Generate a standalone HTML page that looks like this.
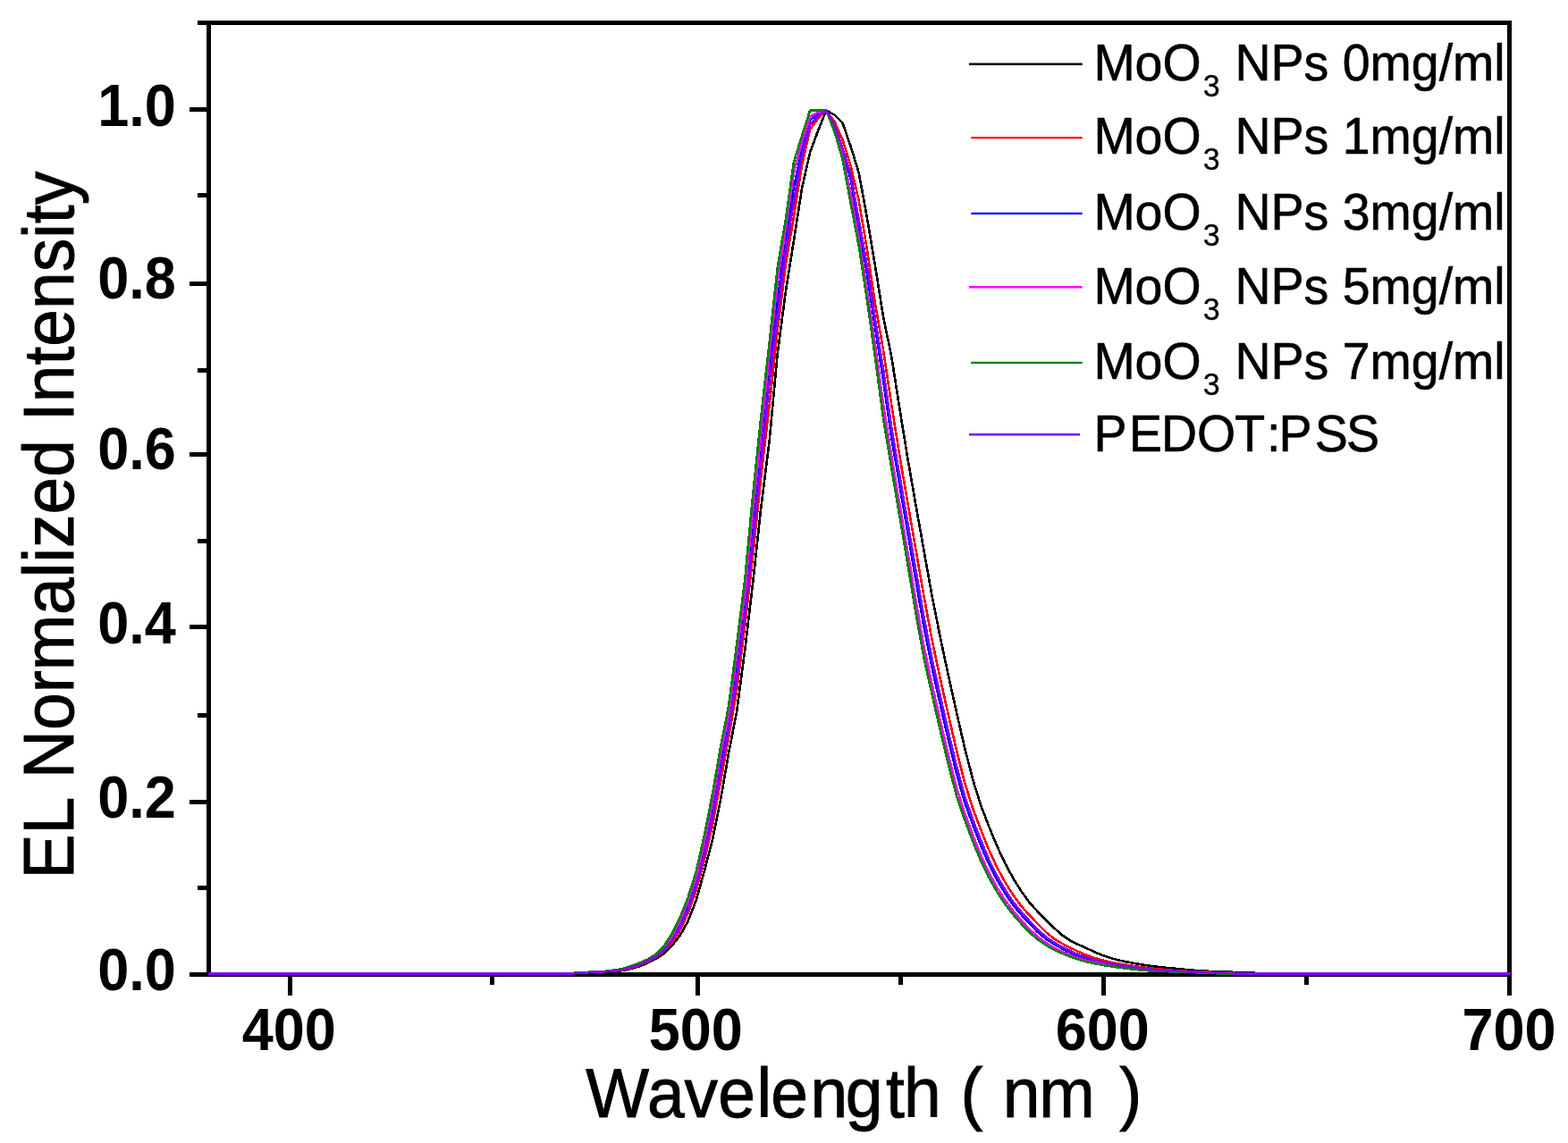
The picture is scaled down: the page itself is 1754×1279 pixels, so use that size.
<!DOCTYPE html>
<html lang="en">
<head>
<meta charset="utf-8">
<title>EL Normalized Intensity vs Wavelength</title>
<style>
html,body{margin:0;padding:0;background:#fff;}
body{width:1754px;height:1279px;overflow:hidden;}
svg{display:block;}
text{font-family:"Liberation Sans",sans-serif;fill:#000;}
.tick{font-weight:bold;font-size:63px;}
.title{font-size:75px;stroke:#000;stroke-width:0.9px;}
.leg{font-size:55.5px;stroke:#000;stroke-width:0.6px;}
.sub{font-size:34px;stroke-width:0.3px;}
.curve{fill:none;stroke-width:2.6;stroke-linejoin:round;stroke-linecap:butt;}
</style>
</head>
<body>
<svg width="1754" height="1279" viewBox="0 0 1754 1279">
<rect x="0" y="0" width="1754" height="1279" fill="#ffffff"/>

<g stroke="#000" stroke-width="5" fill="none" shape-rendering="crispEdges">
<line x1="221.4" y1="25.5" x2="1691.1" y2="25.5"/>
<line x1="211.5" y1="1090.2" x2="1691.1" y2="1090.2"/>
<line x1="233.3" y1="23.0" x2="233.3" y2="1092.7"/>
<line x1="1688.6" y1="23.0" x2="1688.6" y2="1113.5"/>
<line x1="211.5" y1="122.4" x2="233.3" y2="122.4"/>
<line x1="221.4" y1="218.9" x2="233.3" y2="218.9"/>
<line x1="211.5" y1="317.4" x2="233.3" y2="317.4"/>
<line x1="221.4" y1="414.5" x2="233.3" y2="414.5"/>
<line x1="211.5" y1="508.4" x2="233.3" y2="508.4"/>
<line x1="221.4" y1="605.3" x2="233.3" y2="605.3"/>
<line x1="211.5" y1="701.5" x2="233.3" y2="701.5"/>
<line x1="221.4" y1="800.0" x2="233.3" y2="800.0"/>
<line x1="211.5" y1="897.1" x2="233.3" y2="897.1"/>
<line x1="221.4" y1="993.5" x2="233.3" y2="993.5"/>
<line x1="324.0" y1="1090.2" x2="324.0" y2="1113.5"/>
<line x1="550.8" y1="1090.2" x2="550.8" y2="1101.8"/>
<line x1="780.5" y1="1090.2" x2="780.5" y2="1113.5"/>
<line x1="1007.5" y1="1090.2" x2="1007.5" y2="1101.8"/>
<line x1="1234.6" y1="1090.2" x2="1234.6" y2="1113.5"/>
<line x1="1461.6" y1="1090.2" x2="1461.6" y2="1101.8"/>
</g>
<g class="curve" shape-rendering="crispEdges">
<polyline stroke="#000000" points="233.2,1089.2 241.9,1089.2 251.0,1089.2 260.1,1089.2 269.2,1089.2 278.3,1089.2 287.4,1089.2 296.5,1089.2 305.6,1089.2 314.7,1089.2 323.8,1089.2 332.9,1089.2 342.0,1089.2 351.1,1089.2 360.2,1089.2 369.3,1089.2 378.4,1089.2 387.5,1089.2 396.6,1089.2 405.7,1089.2 414.8,1089.2 423.9,1089.2 433.0,1089.2 442.1,1089.2 451.2,1089.2 460.3,1089.2 469.4,1089.2 478.5,1089.2 487.6,1089.2 496.7,1089.2 505.8,1089.2 514.9,1089.2 524.0,1089.2 533.1,1089.2 542.2,1089.2 551.3,1089.2 560.4,1089.2 569.5,1089.2 578.6,1089.2 587.7,1089.2 596.8,1089.2 605.8,1089.2 614.9,1089.2 624.0,1089.2 633.1,1089.2 642.2,1089.2 651.3,1088.8 660.4,1088.3 669.5,1087.8 678.6,1087.4 687.7,1086.9 696.8,1086.0 705.9,1084.1 715.0,1081.4 724.1,1077.7 733.2,1073.2 742.3,1067.1 751.4,1058.5 760.5,1047.1 769.6,1030.8 778.7,1007.3 787.8,975.1 796.9,939.9 806.0,895.2 815.1,842.8 824.2,795.7 833.3,727.2 842.4,650.3 851.5,566.2 860.6,494.0 869.7,396.2 878.8,326.8 887.9,269.8 897.0,211.1 906.1,170.5 915.2,146.0 924.3,123.7 933.4,128.5 942.5,137.5 951.6,163.7 960.7,193.4 969.8,243.2 978.9,296.8 988.0,354.4 997.1,398.1 1006.2,456.3 1015.3,512.6 1024.4,564.8 1033.5,616.1 1042.6,667.2 1051.7,712.8 1060.8,755.6 1069.9,796.6 1079.0,836.3 1088.1,871.9 1097.2,901.1 1106.3,925.0 1115.4,947.0 1124.5,966.5 1133.6,983.2 1142.7,997.7 1151.8,1010.2 1160.9,1020.2 1170.0,1029.2 1179.1,1038.4 1188.2,1046.5 1197.3,1052.5 1206.4,1057.0 1215.5,1061.1 1224.6,1065.3 1233.7,1069.2 1242.8,1072.2 1251.8,1074.5 1260.9,1076.5 1270.0,1078.1 1279.1,1079.7 1288.2,1081.0 1297.3,1082.1 1306.4,1083.0 1315.5,1083.9 1324.6,1084.8 1333.7,1085.6 1342.8,1086.4 1351.9,1086.8 1361.0,1087.1 1370.1,1087.5 1379.2,1087.8 1388.3,1088.2 1397.4,1088.5 1406.5,1088.9 1415.6,1089.2 1424.7,1089.2 1433.8,1089.2 1442.9,1089.2 1452.0,1089.2 1461.1,1089.2 1470.2,1089.2 1479.3,1089.2 1488.4,1089.2 1497.5,1089.2 1506.6,1089.2 1515.7,1089.2 1524.8,1089.2 1533.9,1089.2 1543.0,1089.2 1552.1,1089.2 1561.2,1089.2 1570.3,1089.2 1579.4,1089.2 1588.5,1089.2 1597.6,1089.2 1606.7,1089.2 1615.8,1089.2 1624.9,1089.2 1634.0,1089.2 1643.1,1089.2 1652.2,1089.2 1661.3,1089.2 1670.4,1089.2 1679.5,1089.2 1688.6,1089.2 1688.4,1089.2"/>
<polyline stroke="#ff0000" points="233.2,1089.2 241.9,1089.2 251.0,1089.2 260.1,1089.2 269.2,1089.2 278.3,1089.2 287.4,1089.2 296.5,1089.2 305.6,1089.2 314.7,1089.2 323.8,1089.2 332.9,1089.2 342.0,1089.2 351.1,1089.2 360.2,1089.2 369.3,1089.2 378.4,1089.2 387.5,1089.2 396.6,1089.2 405.7,1089.2 414.8,1089.2 423.9,1089.2 433.0,1089.2 442.1,1089.2 451.2,1089.2 460.3,1089.2 469.4,1089.2 478.5,1089.2 487.6,1089.2 496.7,1089.2 505.8,1089.2 514.9,1089.2 524.0,1089.2 533.1,1089.2 542.2,1089.2 551.3,1089.2 560.4,1089.2 569.5,1089.2 578.6,1089.2 587.7,1089.2 596.8,1089.2 605.8,1089.2 614.9,1089.2 624.0,1089.2 633.1,1089.2 642.2,1089.2 651.3,1088.6 660.4,1088.1 669.5,1087.6 678.6,1087.1 687.7,1086.6 696.8,1085.2 705.9,1083.1 715.0,1080.1 724.1,1076.3 733.2,1071.6 742.3,1064.8 751.4,1054.9 760.5,1041.2 769.6,1022.2 778.7,996.3 787.8,963.1 796.9,923.6 806.0,874.6 815.1,824.7 824.2,772.0 833.3,699.8 842.4,619.7 851.5,531.4 860.6,453.7 869.7,370.6 878.8,296.3 887.9,242.6 897.0,184.9 906.1,144.7 915.2,132.7 924.3,123.7 933.4,135.9 942.5,156.4 951.6,185.4 960.7,224.7 969.8,278.8 978.9,339.2 988.0,391.2 997.1,452.1 1006.2,509.4 1015.3,562.4 1024.4,614.9 1033.5,667.3 1042.6,716.3 1051.7,759.2 1060.8,799.8 1069.9,839.1 1079.0,875.1 1088.1,904.4 1097.2,928.4 1106.3,951.0 1115.4,970.7 1124.5,987.4 1133.6,1001.9 1142.7,1014.3 1151.8,1024.4 1160.9,1033.9 1170.0,1043.0 1179.1,1050.4 1188.2,1055.9 1197.3,1060.5 1206.4,1064.9 1215.5,1068.8 1224.6,1072.0 1233.7,1074.6 1242.8,1076.7 1251.8,1078.5 1260.9,1080.0 1270.0,1081.3 1279.1,1082.4 1288.2,1083.5 1297.3,1084.4 1306.4,1085.3 1315.5,1086.2 1324.6,1086.7 1333.7,1087.0 1342.8,1087.3 1351.9,1087.7 1361.0,1088.0 1370.1,1088.3 1379.2,1088.7 1388.3,1089.2 1397.4,1089.2 1406.5,1089.2 1415.6,1089.2 1424.7,1089.2 1433.8,1089.2 1442.9,1089.2 1452.0,1089.2 1461.1,1089.2 1470.2,1089.2 1479.3,1089.2 1488.4,1089.2 1497.5,1089.2 1506.6,1089.2 1515.7,1089.2 1524.8,1089.2 1533.9,1089.2 1543.0,1089.2 1552.1,1089.2 1561.2,1089.2 1570.3,1089.2 1579.4,1089.2 1588.5,1089.2 1597.6,1089.2 1606.7,1089.2 1615.8,1089.2 1624.9,1089.2 1634.0,1089.2 1643.1,1089.2 1652.2,1089.2 1661.3,1089.2 1670.4,1089.2 1679.5,1089.2 1688.6,1089.2 1688.4,1089.2"/>
<polyline stroke="#0000ff" points="233.2,1089.2 241.9,1089.2 251.0,1089.2 260.1,1089.2 269.2,1089.2 278.3,1089.2 287.4,1089.2 296.5,1089.2 305.6,1089.2 314.7,1089.2 323.8,1089.2 332.9,1089.2 342.0,1089.2 351.1,1089.2 360.2,1089.2 369.3,1089.2 378.4,1089.2 387.5,1089.2 396.6,1089.2 405.7,1089.2 414.8,1089.2 423.9,1089.2 433.0,1089.2 442.1,1089.2 451.2,1089.2 460.3,1089.2 469.4,1089.2 478.5,1089.2 487.6,1089.2 496.7,1089.2 505.8,1089.2 514.9,1089.2 524.0,1089.2 533.1,1089.2 542.2,1089.2 551.3,1089.2 560.4,1089.2 569.5,1089.2 578.6,1089.2 587.7,1089.2 596.8,1089.2 605.8,1089.2 614.9,1089.2 624.0,1089.2 633.1,1089.2 642.2,1089.2 651.3,1088.4 660.4,1087.9 669.5,1087.4 678.6,1086.9 687.7,1086.2 696.8,1084.5 705.9,1082.2 715.0,1078.9 724.1,1075.1 733.2,1070.0 742.3,1062.3 751.4,1050.8 760.5,1034.7 769.6,1013.7 778.7,986.1 787.8,950.6 796.9,907.1 806.0,854.5 815.1,808.6 824.2,746.4 833.3,675.5 842.4,588.9 851.5,501.1 860.6,412.0 869.7,337.0 878.8,269.2 887.9,209.5 897.0,167.8 906.1,134.3 915.2,127.9 924.3,123.7 933.4,141.0 942.5,170.0 951.6,200.1 960.7,253.2 969.8,305.9 978.9,365.5 988.0,425.5 997.1,488.7 1006.2,542.1 1015.3,595.5 1024.4,648.9 1033.5,701.6 1042.6,747.2 1051.7,787.8 1060.8,827.6 1069.9,864.9 1079.0,897.3 1088.1,922.5 1097.2,946.0 1106.3,967.0 1115.4,984.7 1124.5,999.9 1133.6,1013.1 1142.7,1023.9 1151.8,1033.8 1160.9,1043.1 1170.0,1050.7 1179.1,1056.5 1188.2,1061.5 1197.3,1065.9 1206.4,1069.6 1215.5,1072.7 1224.6,1075.3 1233.7,1077.4 1242.8,1079.2 1251.8,1080.6 1260.9,1081.9 1270.0,1083.1 1279.1,1084.2 1288.2,1085.1 1297.3,1085.9 1306.4,1086.6 1315.5,1086.9 1324.6,1087.2 1333.7,1087.6 1342.8,1087.9 1351.9,1088.2 1361.0,1088.5 1370.1,1088.8 1379.2,1089.2 1388.3,1089.2 1397.4,1089.2 1406.5,1089.2 1415.6,1089.2 1424.7,1089.2 1433.8,1089.2 1442.9,1089.2 1452.0,1089.2 1461.1,1089.2 1470.2,1089.2 1479.3,1089.2 1488.4,1089.2 1497.5,1089.2 1506.6,1089.2 1515.7,1089.2 1524.8,1089.2 1533.9,1089.2 1543.0,1089.2 1552.1,1089.2 1561.2,1089.2 1570.3,1089.2 1579.4,1089.2 1588.5,1089.2 1597.6,1089.2 1606.7,1089.2 1615.8,1089.2 1624.9,1089.2 1634.0,1089.2 1643.1,1089.2 1652.2,1089.2 1661.3,1089.2 1670.4,1089.2 1679.5,1089.2 1688.6,1089.2 1688.4,1089.2"/>
<polyline stroke="#ff00ff" points="233.2,1089.2 241.9,1089.2 251.0,1089.2 260.1,1089.2 269.2,1089.2 278.3,1089.2 287.4,1089.2 296.5,1089.2 305.6,1089.2 314.7,1089.2 323.8,1089.2 332.9,1089.2 342.0,1089.2 351.1,1089.2 360.2,1089.2 369.3,1089.2 378.4,1089.2 387.5,1089.2 396.6,1089.2 405.7,1089.2 414.8,1089.2 423.9,1089.2 433.0,1089.2 442.1,1089.2 451.2,1089.2 460.3,1089.2 469.4,1089.2 478.5,1089.2 487.6,1089.2 496.7,1089.2 505.8,1089.2 514.9,1089.2 524.0,1089.2 533.1,1089.2 542.2,1089.2 551.3,1089.2 560.4,1089.2 569.5,1089.2 578.6,1089.2 587.7,1089.2 596.8,1089.2 605.8,1089.2 614.9,1089.2 624.0,1089.2 633.1,1089.2 642.2,1088.9 651.3,1088.3 660.4,1087.8 669.5,1087.3 678.6,1086.8 687.7,1085.8 696.8,1084.2 705.9,1081.7 715.0,1078.2 724.1,1074.4 733.2,1069.0 742.3,1060.8 751.4,1048.2 760.5,1030.9 769.6,1009.0 778.7,980.7 787.8,942.9 796.9,898.0 806.0,844.8 815.1,799.5 824.2,732.7 833.3,661.8 842.4,570.3 851.5,483.4 860.6,396.9 869.7,315.5 878.8,256.9 887.9,193.0 897.0,160.0 906.1,130.7 915.2,125.5 924.3,123.7 933.4,144.0 942.5,175.0 951.6,215.4 960.7,266.7 969.8,323.9 978.9,385.2 988.0,452.1 997.1,509.7 1006.2,563.5 1015.3,617.3 1024.4,671.1 1033.5,723.6 1042.6,765.7 1051.7,806.0 1060.8,844.7 1069.9,881.1 1079.0,909.7 1088.1,934.0 1097.2,957.0 1106.3,976.6 1115.4,993.2 1124.5,1007.6 1133.6,1019.7 1142.7,1030.1 1151.8,1039.9 1160.9,1048.3 1170.0,1055.0 1179.1,1060.4 1188.2,1065.0 1197.3,1068.8 1206.4,1072.1 1215.5,1074.9 1224.6,1077.2 1233.7,1079.1 1242.8,1080.5 1251.8,1081.9 1260.9,1083.1 1270.0,1084.3 1279.1,1085.2 1288.2,1086.1 1297.3,1086.6 1306.4,1087.0 1315.5,1087.3 1324.6,1087.6 1333.7,1087.9 1342.8,1088.2 1351.9,1088.5 1361.0,1088.8 1370.1,1089.2 1379.2,1089.2 1388.3,1089.2 1397.4,1089.2 1406.5,1089.2 1415.6,1089.2 1424.7,1089.2 1433.8,1089.2 1442.9,1089.2 1452.0,1089.2 1461.1,1089.2 1470.2,1089.2 1479.3,1089.2 1488.4,1089.2 1497.5,1089.2 1506.6,1089.2 1515.7,1089.2 1524.8,1089.2 1533.9,1089.2 1543.0,1089.2 1552.1,1089.2 1561.2,1089.2 1570.3,1089.2 1579.4,1089.2 1588.5,1089.2 1597.6,1089.2 1606.7,1089.2 1615.8,1089.2 1624.9,1089.2 1634.0,1089.2 1643.1,1089.2 1652.2,1089.2 1661.3,1089.2 1670.4,1089.2 1679.5,1089.2 1688.6,1089.2 1688.4,1089.2"/>
<polyline stroke="#008000" points="233.2,1089.2 241.9,1089.2 251.0,1089.2 260.1,1089.2 269.2,1089.2 278.3,1089.2 287.4,1089.2 296.5,1089.2 305.6,1089.2 314.7,1089.2 323.8,1089.2 332.9,1089.2 342.0,1089.2 351.1,1089.2 360.2,1089.2 369.3,1089.2 378.4,1089.2 387.5,1089.2 396.6,1089.2 405.7,1089.2 414.8,1089.2 423.9,1089.2 433.0,1089.2 442.1,1089.2 451.2,1089.2 460.3,1089.2 469.4,1089.2 478.5,1089.2 487.6,1089.2 496.7,1089.2 505.8,1089.2 514.9,1089.2 524.0,1089.2 533.1,1089.2 542.2,1089.2 551.3,1089.2 560.4,1089.2 569.5,1089.2 578.6,1089.2 587.7,1089.2 596.8,1089.2 605.8,1089.2 614.9,1089.2 624.0,1089.2 633.1,1089.2 642.2,1088.8 651.3,1088.2 660.4,1087.7 669.5,1087.2 678.6,1086.7 687.7,1085.5 696.8,1083.9 705.9,1081.1 715.0,1077.6 724.1,1073.7 733.2,1068.1 742.3,1059.2 751.4,1045.4 760.5,1027.2 769.6,1004.5 778.7,975.5 787.8,935.1 796.9,889.1 806.0,836.4 815.1,790.1 824.2,720.6 833.3,648.0 842.4,551.7 851.5,464.9 860.6,383.9 869.7,299.7 878.8,246.2 887.9,181.8 897.0,152.1 906.1,123.7 915.2,123.7 924.3,123.7 933.4,147.0 942.5,178.0 951.6,227.5 960.7,275.1 969.8,334.7 978.9,399.4 988.0,467.6 997.1,522.4 1006.2,576.7 1015.3,630.8 1024.4,685.7 1033.5,736.1 1042.6,776.9 1051.7,816.8 1060.8,855.0 1069.9,890.2 1079.0,916.9 1088.1,941.1 1097.2,963.5 1106.3,982.2 1115.4,998.2 1124.5,1012.1 1133.6,1023.7 1142.7,1034.0 1151.8,1043.5 1160.9,1051.3 1170.0,1057.6 1179.1,1062.8 1188.2,1066.9 1197.3,1070.5 1206.4,1073.6 1215.5,1076.2 1224.6,1078.3 1233.7,1079.9 1242.8,1081.4 1251.8,1082.7 1260.9,1083.9 1270.0,1084.9 1279.1,1085.8 1288.2,1086.6 1297.3,1086.9 1306.4,1087.2 1315.5,1087.5 1324.6,1087.8 1333.7,1088.1 1342.8,1088.4 1351.9,1088.7 1361.0,1089.2 1370.1,1089.2 1379.2,1089.2 1388.3,1089.2 1397.4,1089.2 1406.5,1089.2 1415.6,1089.2 1424.7,1089.2 1433.8,1089.2 1442.9,1089.2 1452.0,1089.2 1461.1,1089.2 1470.2,1089.2 1479.3,1089.2 1488.4,1089.2 1497.5,1089.2 1506.6,1089.2 1515.7,1089.2 1524.8,1089.2 1533.9,1089.2 1543.0,1089.2 1552.1,1089.2 1561.2,1089.2 1570.3,1089.2 1579.4,1089.2 1588.5,1089.2 1597.6,1089.2 1606.7,1089.2 1615.8,1089.2 1624.9,1089.2 1634.0,1089.2 1643.1,1089.2 1652.2,1089.2 1661.3,1089.2 1670.4,1089.2 1679.5,1089.2 1688.6,1089.2 1688.4,1089.2"/>
<polyline stroke="#8000ff" points="233.2,1089.2 241.9,1089.2 251.0,1089.2 260.1,1089.2 269.2,1089.2 278.3,1089.2 287.4,1089.2 296.5,1089.2 305.6,1089.2 314.7,1089.2 323.8,1089.2 332.9,1089.2 342.0,1089.2 351.1,1089.2 360.2,1089.2 369.3,1089.2 378.4,1089.2 387.5,1089.2 396.6,1089.2 405.7,1089.2 414.8,1089.2 423.9,1089.2 433.0,1089.2 442.1,1089.2 451.2,1089.2 460.3,1089.2 469.4,1089.2 478.5,1089.2 487.6,1089.2 496.7,1089.2 505.8,1089.2 514.9,1089.2 524.0,1089.2 533.1,1089.2 542.2,1089.2 551.3,1089.2 560.4,1089.2 569.5,1089.2 578.6,1089.2 587.7,1089.2 596.8,1089.2 605.8,1089.2 614.9,1089.2 624.0,1089.2 633.1,1089.2 642.2,1089.2 651.3,1088.5 660.4,1088.0 669.5,1087.5 678.6,1087.0 687.7,1086.5 696.8,1084.8 705.9,1082.6 715.0,1079.4 724.1,1075.6 733.2,1070.7 742.3,1063.4 751.4,1052.8 760.5,1037.7 769.6,1017.5 778.7,990.6 787.8,956.3 796.9,914.4 806.0,863.2 815.1,815.7 824.2,757.9 833.3,686.1 842.4,602.9 851.5,514.4 860.6,427.8 869.7,353.8 878.8,281.2 887.9,226.1 897.0,174.4 906.1,139.9 915.2,129.5 924.3,123.7 933.4,139.5 942.5,166.0 951.6,194.8 960.7,246.1 969.8,296.9 978.9,356.7 988.0,413.1 997.1,477.6 1006.2,531.5 1015.3,584.7 1024.4,637.9 1033.5,690.4 1042.6,737.6 1051.7,778.6 1060.8,818.8 1069.9,856.7 1079.0,890.6 1088.1,916.8 1097.2,940.3 1106.3,962.0 1115.4,980.3 1124.5,996.0 1133.6,1009.6 1142.7,1020.8 1151.8,1030.7 1160.9,1040.3 1170.0,1048.4 1179.1,1054.6 1188.2,1059.7 1197.3,1064.2 1206.4,1068.2 1215.5,1071.5 1224.6,1074.3 1233.7,1076.5 1242.8,1078.4 1251.8,1080.0 1260.9,1081.4 1270.0,1082.5 1279.1,1083.6 1288.2,1084.6 1297.3,1085.5 1306.4,1086.3 1315.5,1086.7 1324.6,1087.1 1333.7,1087.4 1342.8,1087.7 1351.9,1088.0 1361.0,1088.3 1370.1,1088.7 1379.2,1089.2 1388.3,1089.2 1397.4,1089.2 1406.5,1089.2 1415.6,1089.2 1424.7,1089.2 1433.8,1089.2 1442.9,1089.2 1452.0,1089.2 1461.1,1089.2 1470.2,1089.2 1479.3,1089.2 1488.4,1089.2 1497.5,1089.2 1506.6,1089.2 1515.7,1089.2 1524.8,1089.2 1533.9,1089.2 1543.0,1089.2 1552.1,1089.2 1561.2,1089.2 1570.3,1089.2 1579.4,1089.2 1588.5,1089.2 1597.6,1089.2 1606.7,1089.2 1615.8,1089.2 1624.9,1089.2 1634.0,1089.2 1643.1,1089.2 1652.2,1089.2 1661.3,1089.2 1670.4,1089.2 1679.5,1089.2 1688.6,1089.2 1688.4,1089.2"/>
</g>
<g stroke-width="2.4">
<line x1="1084.0" y1="71.7" x2="1210.7" y2="71.7" stroke="#000000"/>
<line x1="1086.4" y1="154.1" x2="1210.7" y2="154.1" stroke="#ff0000"/>
<line x1="1086.4" y1="238.9" x2="1210.7" y2="238.9" stroke="#0000ff"/>
<line x1="1084.0" y1="321.3" x2="1210.7" y2="321.3" stroke="#ff00ff"/>
<line x1="1086.2" y1="405.9" x2="1210.7" y2="405.9" stroke="#008000"/>
<line x1="1084.0" y1="486.2" x2="1208.0" y2="486.2" stroke="#8000ff"/>
</g>
<text class="leg" transform="translate(1223.4,89.9) scale(1,1.040)">MoO<tspan class="sub" dx="2.2" dy="17.0">3</tspan><tspan dx="1.3" dy="-17.0"> NPs 0mg/ml</tspan></text>
<text class="leg" transform="translate(1223.4,172.3) scale(1,1.040)">MoO<tspan class="sub" dx="2.2" dy="17.0">3</tspan><tspan dx="1.3" dy="-17.0"> NPs 1mg/ml</tspan></text>
<text class="leg" transform="translate(1223.4,257.1) scale(1,1.040)">MoO<tspan class="sub" dx="2.2" dy="17.0">3</tspan><tspan dx="1.3" dy="-17.0"> NPs 3mg/ml</tspan></text>
<text class="leg" transform="translate(1223.4,339.9) scale(1,1.040)">MoO<tspan class="sub" dx="2.2" dy="17.0">3</tspan><tspan dx="1.3" dy="-17.0"> NPs 5mg/ml</tspan></text>
<text class="leg" transform="translate(1223.4,424.3) scale(1,1.040)">MoO<tspan class="sub" dx="2.2" dy="17.0">3</tspan><tspan dx="1.3" dy="-17.0"> NPs 7mg/ml</tspan></text>
<text class="leg" transform="translate(1223.4,504.5) scale(1,1.040)" dx="0 2.6 -1 -0.2 -0.8 8 -2 3.4 -2">PEDOT:PSS</text>
<text class="tick" transform="translate(196.9,140.6) scale(1,1.058)" text-anchor="end">1.0</text>
<text class="tick" transform="translate(196.9,334.3) scale(1,1.058)" text-anchor="end">0.8</text>
<text class="tick" transform="translate(196.9,524.6) scale(1,1.058)" text-anchor="end">0.6</text>
<text class="tick" transform="translate(196.9,719.6) scale(1,1.058)" text-anchor="end">0.4</text>
<text class="tick" transform="translate(196.9,915.4) scale(1,1.058)" text-anchor="end">0.2</text>
<text class="tick" transform="translate(196.9,1107.6) scale(1,1.058)" text-anchor="end">0.0</text>
<text class="tick" transform="translate(323.3,1174.8) scale(1,1.058)" text-anchor="middle">400</text>
<text class="tick" transform="translate(778.2,1174.8) scale(1,1.058)" text-anchor="middle">500</text>
<text class="tick" transform="translate(1233.2,1174.8) scale(1,1.058)" text-anchor="middle">600</text>
<text class="tick" transform="translate(1688.1,1174.8) scale(1,1.058)" text-anchor="middle">700</text>
<text class="title" transform="translate(655.3,1249.9) scale(1,1.040)" dx="0 0.8 -0.4 0.4 1.6 -1 2.6 -2.6 3.6 -0.8 0 1 0 1.4 -1.2 0 6.6">Wavelength ( nm )</text>
<text class="title" transform="translate(81.7,981.0) rotate(-90) scale(1,1.055)" dx="-2.6 0 0 2.6">EL Normalized Intensity</text>
</svg>
</body>
</html>
